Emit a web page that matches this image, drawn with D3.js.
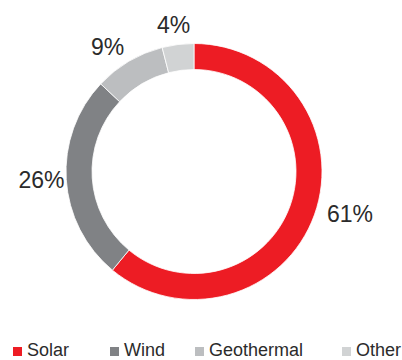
<!DOCTYPE html>
<html><head><meta charset="utf-8">
<script src="https://cdn.jsdelivr.net/npm/d3@7"></script>
<style>body{margin:0;background:#fff}svg{display:block}text{font-family:"Liberation Sans",Arial,sans-serif}</style>
</head><body>
<svg id="c" width="402" height="360"></svg>
<script>
const categories = ["Solar", "Wind", "Geothermal", "Other"];
const values = [61, 26, 9, 4];
const labels = ["61%", "26%", "9%", "4%"];
const colors = ["#ED1C24", "#808285", "#BCBEC0", "#D1D3D4"];

const svg = d3.select("#c");
const cx = 194, cy = 171.5, rOuter = 128, rInner = 102;
const g = svg.append("g").attr("transform", `translate(${cx},${cy})`);
const pie = d3.pie().sort(null).value(d => d)(values);
const arc = d3.arc().innerRadius(rInner).outerRadius(rOuter);
g.selectAll("path").data(pie).join("path")
  .attr("d", arc).attr("fill", (d, i) => colors[i])
  .attr("stroke", "#fff").attr("stroke-width", 0.8);

// label placement (text centre x, baseline y, relative to chart centre)
const labelPos = [[156, 50.5], [-152.5, 16.5], [-86.5, -116.5], [-20.5, -138.5]];
g.selectAll("text.lbl").data(labels).join("text").attr("class", "lbl")
  .attr("x", (d, i) => labelPos[i][0]).attr("y", (d, i) => labelPos[i][1])
  .attr("text-anchor", "middle").attr("font-size", 23).attr("fill", "#2b2b2b")
  .text(d => d);

const legX = [13, 110, 195, 342];
const leg = svg.append("g");
categories.forEach((c, i) => {
  leg.append("rect").attr("x", legX[i]).attr("y", 347).attr("width", 9).attr("height", 9).attr("fill", colors[i]);
  leg.append("text").attr("x", legX[i] + 14).attr("y", 356).attr("font-size", 18).attr("fill", "#2b2b2b").text(c);
});
</script>
</body></html>
